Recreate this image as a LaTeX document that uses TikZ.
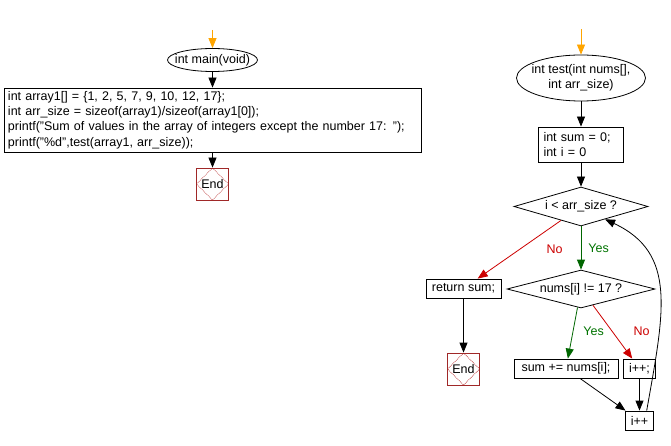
\documentclass[tikz,border=0pt]{standalone}
\usepackage{fontspec}
\setmainfont{Liberation Sans}
\usepackage{tikz}
\usetikzlibrary{shapes.geometric, positioning, arrows.meta}
\definecolor{entryorange}{RGB}{255,165,0}
\definecolor{endred}{RGB}{160,40,40}

\begin{document}
\begin{tikzpicture}[
        x=1pt, y=-1pt,
        line width=0.8pt,
        font=\fontsize{12.5}{15.2}\selectfont,
        terminal/.style={ellipse, draw, inner ysep=0.5pt, align=center},
        process/.style={rectangle, draw, inner xsep=4pt, inner ysep=1pt, align=left},
        decision/.style={diamond, draw, aspect=3.4, inner sep=0pt, align=center},
        endnode/.style={rectangle, draw=endred, minimum size=32pt, inner sep=0pt,
            path picture={\draw[endred!80!red, densely dotted, line width=0.7pt]
                (path picture bounding box.north) -- (path picture bounding box.east) --
                (path picture bounding box.south) -- (path picture bounding box.west) -- cycle;}},
        arrow/.style={-{Triangle[length=10pt, width=8pt]}},
        entry/.style={arrow, draw=entryorange},
        yes/.style={arrow, draw=green!40!black},
        no/.style={arrow, draw=red!80!black},
        yeslabel/.style={text=green!45!black, inner sep=1pt},
        nolabel/.style={text=red!80!black, inner sep=1pt}
    ]
    \useasboundingbox (0,0) rectangle (671,446);
%
    % Nodes: main
    \coordinate (mainin) at (212.5,30);
    \node[terminal, inner xsep=-8pt, minimum width=90pt, minimum height=23pt] (main) at (212.5,60) {int main(void)};
    \node[process, text width=409pt, minimum height=64pt] (body) at (212.5,120) {int array1[] = \{1, 2, 5, 7, 9, 10, 12, 17\};\\
        int arr\_size = sizeof(array1)/sizeof(array1[0]);\\
        printf("Sum of values in the array of integers except the number 17: ");\\
        printf("\%d",test(array1, arr\_size));};
    \node[endnode] (end1) at (212.5,184) {End};
%
    % Nodes: test
    \coordinate (testin) at (581,29);
    \node[terminal, inner xsep=-5pt, minimum width=129pt, minimum height=46pt] (test) at (581,78) {int test(int nums[],\\ int arr\_size)};
    \node[process, text width=75pt, inner xsep=5pt, minimum height=35pt] (init) at (581,144.5) {int sum = 0;\\ int i = 0};
    \node[decision, minimum width=134pt, minimum height=39pt] (cond) at (581,206.5) {i < arr\_size ?};
    \node[process, minimum width=75pt, minimum height=19pt] (ret) at (463.5,288.5) {return sum;};
    \node[endnode] (end2) at (463.5,369) {End};
    \node[decision, minimum width=148pt, minimum height=38pt] (check) at (581,289) {nums[i] != 17 ?};
    \node[process, minimum width=104pt, minimum height=19pt] (add) at (566,368.5) {sum += nums[i];};
    \node[process, minimum width=32pt, minimum height=19pt] (inc1) at (639.5,368.5) {i++;};
    \node[process, minimum width=28pt, minimum height=19pt] (inc2) at (639.5,420.5) {i++};
%
    % Arrows
    \draw[entry] (mainin) -- (main);
    \draw[arrow] (main) -- (body);
    \draw[arrow] (body) -- (end1);
    \draw[entry] (testin) -- (test);
    \draw[arrow] (test) -- (init);
    \draw[arrow] (init) -- (cond);
    \draw[yes] (cond) -- node[yeslabel, right=6pt] {Yes} (check);
    \draw[no] (cond) -- node[nolabel, pos=0.49, right=25pt] {No} (ret);
    \draw[arrow] (ret) -- (end2);
    \draw[yes] (check) -- node[yeslabel, pos=0.47, right=9pt] {Yes} (add);
    \draw[no] (check) -- node[nolabel, pos=0.49, right=20pt] {No} (inc1);
    \draw[arrow] (add) -- (inc2);
    \draw[arrow] (inc1) -- (inc2);
    \draw[arrow] (inc2.54) .. controls +(80:100pt) and +(-25:80pt) .. (cond.332);
%
\end{tikzpicture}
\end{document}
